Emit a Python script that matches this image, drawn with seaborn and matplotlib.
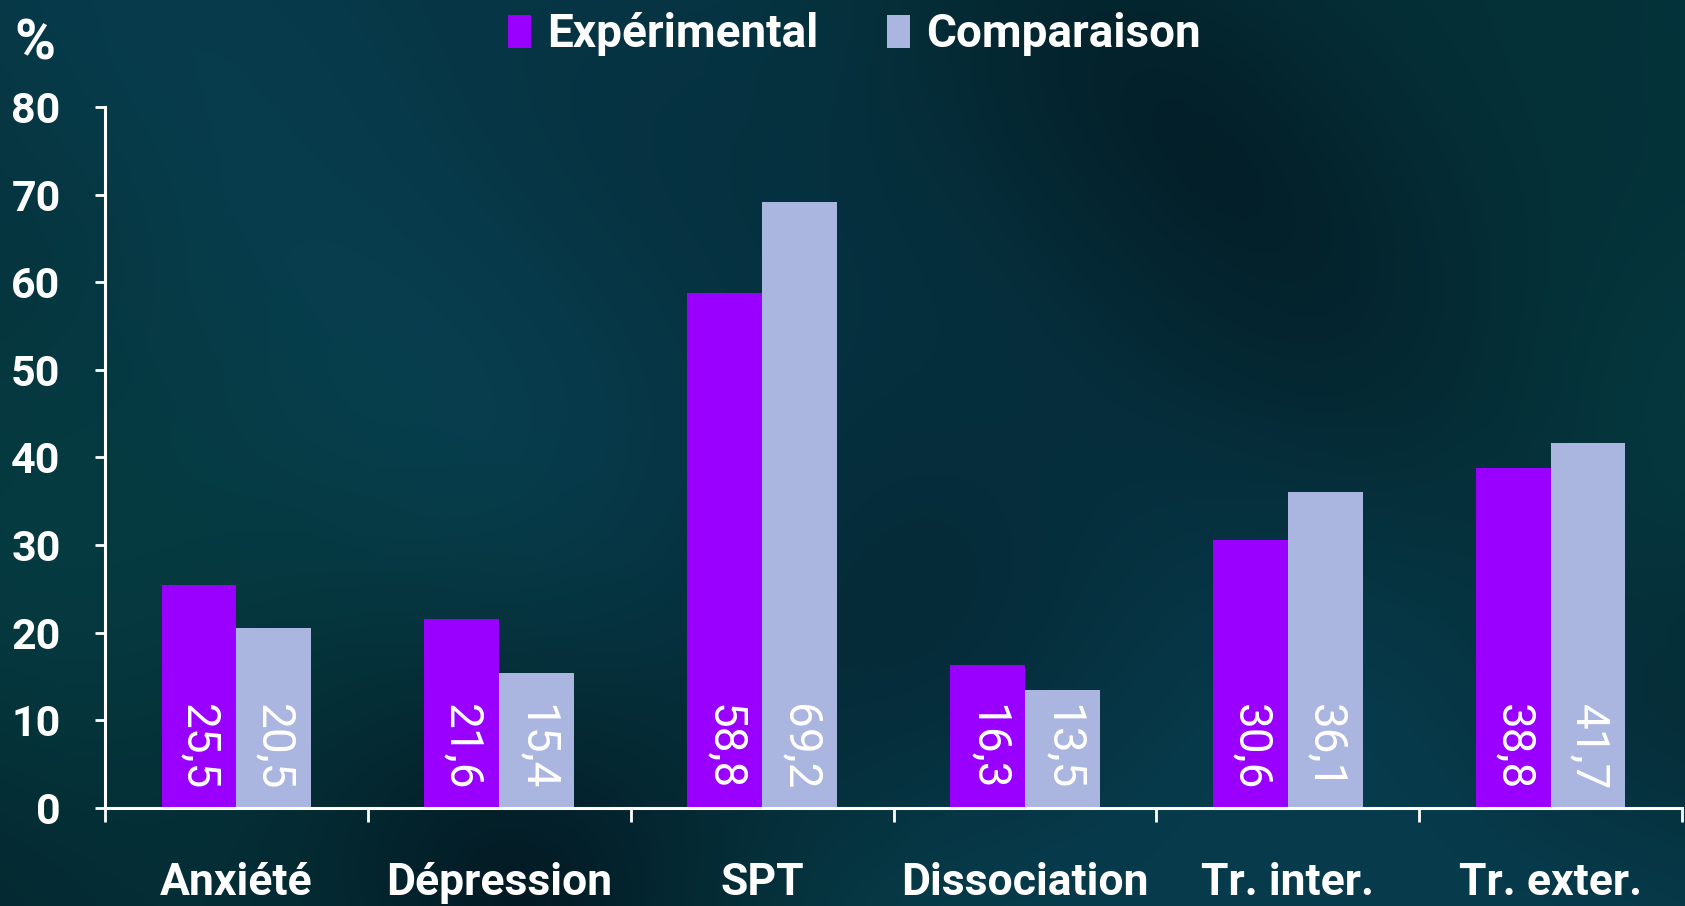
import numpy as np
import pandas as pd
import matplotlib
matplotlib.use("Agg")
import matplotlib.pyplot as plt
import seaborn as sns
from matplotlib.ticker import FixedLocator

# Data
categories = ["Anxiété", "Dépression", "SPT", "Dissociation", "Tr. inter.", "Tr. exter."]
experimental = [25.5, 21.6, 58.8, 16.3, 30.6, 38.8]
comparaison = [20.5, 15.4, 69.2, 13.5, 36.1, 41.7]
groups = ["Expérimental", "Comparaison"]
yticks = [0, 10, 20, 30, 40, 50, 60, 70, 80]
colors = ["#9900ff", "#aab6e0"]

df = pd.DataFrame({
    "catégorie": categories * 2,
    "groupe": [groups[0]] * len(categories) + [groups[1]] * len(categories),
    "valeur": experimental + comparaison,
})

sns.set_theme(style="white")
plt.rcParams["font.family"] = ["Roboto", "DejaVu Sans"]

fig = plt.figure(figsize=(16.85, 9.06), dpi=100)

# Dark teal backdrop with soft swirls
bg = fig.add_axes([0, 0, 1, 1], zorder=-10)
h, w = 181, 337
yy, xx = np.mgrid[0:1:h * 1j, 0:1:w * 1j]
field = (np.sin(6.0 * xx + 3.0 * yy)
         + np.sin(4.0 * yy - 5.0 * xx + 1.3)
         + 0.6 * np.sin(11 * xx * yy + 2 * xx)
         + 0.5 * np.cos(9 * yy + 3 * xx + 0.7)
         + 0.4 * np.sin(17 * xx - 7 * yy))
field = (field - field.min()) / (field.max() - field.min())
field = field ** 0.6
blue_mix = np.clip(0.5 + 0.7 * np.sin(5.0 * xx - 3.0 * yy + 0.5), 0, 1) * 0.35
dark = np.array([3, 26, 36]) / 255
teal = np.array([6, 64, 70]) / 255
navy = np.array([10, 58, 96]) / 255
light = teal[None, None, :] * (1 - blue_mix[..., None]) + navy[None, None, :] * blue_mix[..., None]
img = dark[None, None, :] * (1 - field[..., None]) + light * field[..., None]
bg.imshow(img, aspect="auto", interpolation="bicubic", extent=[0, 1, 0, 1])
bg.set_axis_off()

ax = fig.add_axes([105 / 1685, 98 / 906, 1577 / 1685, 701 / 906])
ax.patch.set_alpha(0)

sns.barplot(data=df, x="catégorie", y="valeur", hue="groupe", hue_order=groups,
            palette=colors, width=0.57, gap=0, saturation=1, ax=ax,
            edgecolor="none", linewidth=0, legend=True)

ax.set_ylim(0, 80)
ax.set_xlim(-0.5, len(categories) - 0.5)
ax.set_xlabel("")
ax.set_ylabel("")
ax.set_yticks(yticks)

for s in ["top", "right"]:
    ax.spines[s].set_visible(False)
for s in ["left", "bottom"]:
    ax.spines[s].set_color("white")
    ax.spines[s].set_linewidth(2.2)

ax.tick_params(axis="y", direction="out", length=7, width=2, color="white",
               labelcolor="white", labelsize=31, pad=25, left=True)
for t in ax.get_yticklabels():
    t.set_fontweight("bold")

ax.xaxis.set_minor_locator(FixedLocator(np.arange(-0.5, len(categories), 1.0)))
ax.tick_params(axis="x", which="major", length=0, labelcolor="white",
               labelsize=32, pad=39, bottom=True)
ax.tick_params(axis="x", which="minor", direction="out", length=10, width=2,
               color="white", bottom=True)
for t in ax.get_xticklabels():
    t.set_fontweight("bold")

# Value labels inside the bars
series_vals = [experimental, comparaison]
n = len(categories)
for gi, vals in enumerate(series_vals):
    for ci, v in enumerate(vals):
        bar = ax.patches[gi * n + ci]
        xc = bar.get_x() + bar.get_width() / 2
        ax.text(xc, 2.0, f"{v:.1f}".replace(".", ","), rotation=-90,
                ha="center", va="bottom", color="white", fontsize=33)

handles, labels = ax.get_legend_handles_labels()
ax.get_legend().remove()
leg = fig.legend(handles, labels, loc="center", bbox_to_anchor=(0.507, 0.962),
                 ncol=2, frameon=False, prop={"size": 33, "weight": "bold"},
                 handlelength=0.5, handleheight=0.75, handletextpad=0.35,
                 columnspacing=1.5, labelcolor="white")

fig.text(35 / 1685, 1 - 45 / 906, "%", color="white", fontsize=40,
         fontweight="bold", ha="center", va="center")

fig.savefig("out.png", dpi=100)
